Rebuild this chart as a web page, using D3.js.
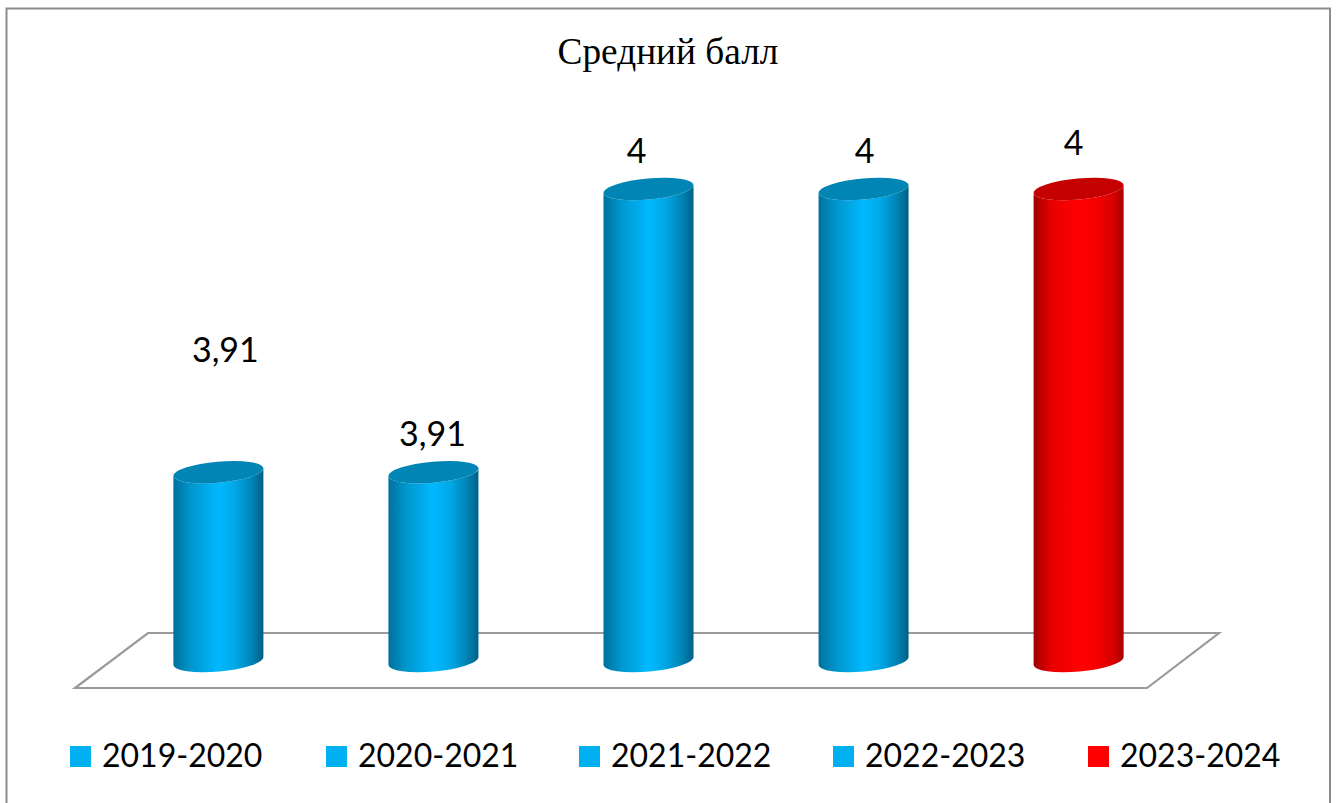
<!DOCTYPE html>
<html><head><meta charset="utf-8">
<script src="https://cdnjs.cloudflare.com/ajax/libs/d3/7.8.5/d3.min.js"></script>
<style>html,body{margin:0;padding:0;background:#fff;overflow:hidden}svg{display:block}</style>
</head><body><svg id="c" width="1338" height="803"></svg>
<script>
const title = "Средний балл";
const categories = ["2019-2020","2020-2021","2021-2022","2022-2023","2023-2024"];
const values = [3.91,3.91,4,4,4];
const labels = ["3,91","3,91","4","4","4"];
const barColors = ["#00b0f0","#00b0f0","#00b0f0","#00b0f0","#ff0000"];
const labelRise = [121,37,37,37,45];
const labelShift = [7,-1,-12,1,-5];
const svg = d3.select("#c");
const x = d3.scaleBand().domain(categories).range([111,1186]).paddingInner(0.5814).paddingOuter(0.29);
const y = d3.scaleLinear().domain([3.85,4]).range([661,189]);
const W = x.bandwidth(), rx = W/2, ry = 10.5, tilt = -5;
const defs = svg.append("defs");
const grad = (id,stops)=>{const g=defs.append("linearGradient").attr("id",id).attr("x1",0).attr("x2",1).attr("y1",0).attr("y2",0);
  stops.forEach(s=>g.append("stop").attr("offset",s[0]).attr("stop-color",s[1]));};
grad("gb",[[0,"#00709d"],[0.2,"#0097ce"],[0.5,"#00b8ff"],[0.68,"#00a8e8"],[0.88,"#0082b2"],[1,"#005f85"]]);
grad("gr",[[0,"#a00000"],[0.2,"#e80000"],[0.5,"#ff0000"],[0.68,"#f80000"],[0.88,"#d80000"],[1,"#a80000"]]);
svg.append("path").attr("d","M6.5,804V8.5H1330V804").attr("fill","none").attr("stroke","#8c8c8c").attr("stroke-width",2);
svg.append("text").attr("x",668).attr("y",64).attr("text-anchor","middle").attr("font-family","Liberation Serif").attr("font-size",37.3).attr("fill","#000").text(title);
const floor = d3.line()([[148,633],[1219,633],[1147,688],[75,688]])+"Z";
svg.append("path").attr("d",floor).attr("fill","none").attr("stroke","#9a9a9a").attr("stroke-width",2.2);
const dy = Math.tan(-tilt*Math.PI/180)*rx;
const arc = (x2,y2,sw)=>`A${rx/Math.cos(tilt*Math.PI/180)},${ry} ${tilt} 0 ${sw} ${x2},${y2}`;
const g = svg.selectAll("g.bar").data(categories).join("g").attr("class","bar");
g.append("path").attr("fill",(d,i)=>i===4?"url(#gr)":"url(#gb)").attr("d",(d,i)=>{
  const l=x(d), r=l+W, t=y(values[i]), b=y(3.85);
  return `M${l},${t+dy}L${l},${b+dy}`+arc(r,b-dy,0)+`L${r},${t-dy}`+arc(l,t+dy,1)+"Z";
});
g.append("ellipse").attr("cx",d=>x(d)+W/2).attr("cy",(d,i)=>y(values[i])).attr("rx",rx/Math.cos(tilt*Math.PI/180)).attr("ry",ry)
  .attr("transform",(d,i)=>`rotate(${tilt} ${x(d)+W/2} ${y(values[i])})`).attr("fill",(d,i)=>i===4?"#c40000":"#0085b5");
g.append("text").attr("x",(d,i)=>x(d)+W/2+labelShift[i]).attr("y",(d,i)=>y(values[i])-labelRise[i]+11).attr("text-anchor","middle")
  .attr("font-family","Lato").attr("font-size",34).attr("fill","#000").text((d,i)=>labels[i]);
const legendX = [70,326,579,833,1088];
const lg = svg.selectAll("g.leg").data(categories).join("g").attr("class","leg").attr("transform",(d,i)=>`translate(${legendX[i]},746)`);
lg.append("rect").attr("width",21).attr("height",21).attr("fill",(d,i)=>barColors[i]);
lg.append("text").attr("x",32).attr("y",21).attr("font-family","Lato").attr("font-size",32).attr("fill","#000").text(d=>d);
</script></body></html>
